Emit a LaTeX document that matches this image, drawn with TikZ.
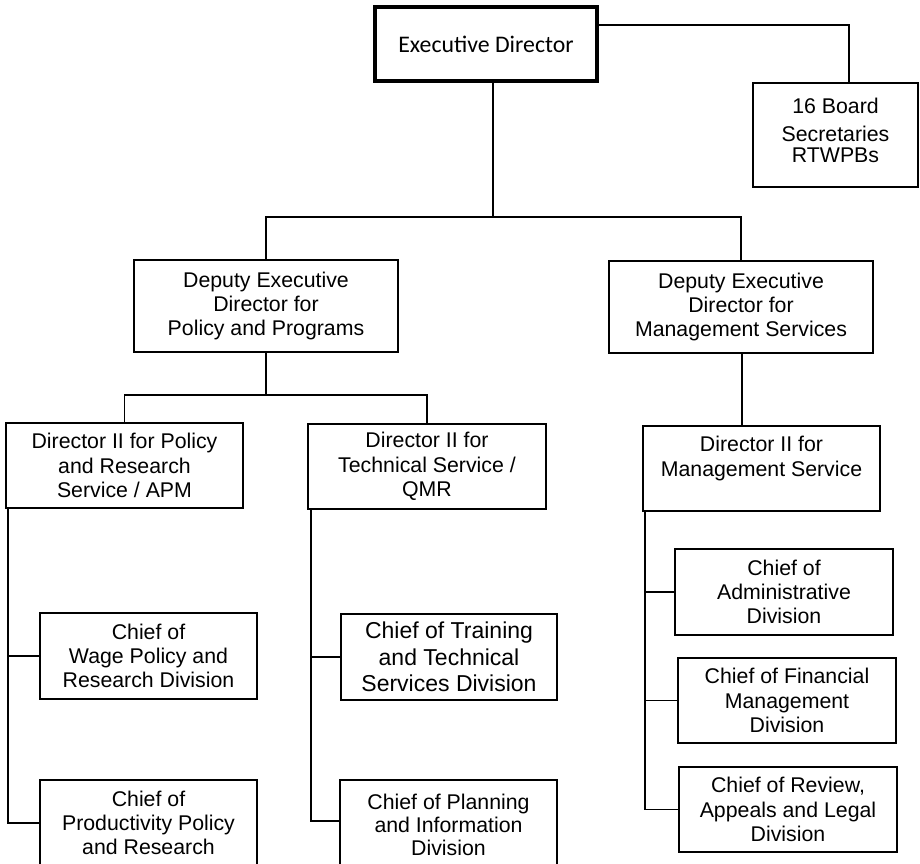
\documentclass[tikz,border=0pt]{standalone}
\usepackage{fontspec}
\setmainfont{Liberation Sans}
\newfontfamily\edfont{Carlito}
\begin{document}
\begin{tikzpicture}[x=1pt,y=-1pt,
  box/.style={draw, line width=1.6pt, inner sep=0pt, align=center,
    font=\fontsize{21.3}{24.3}\selectfont},
  conn/.style={line width=1.6pt}]
\clip (0,0) rectangle (920,863);
\fill[white] (0,0) rectangle (920,863);
% boxes
\node[box, line width=3.2pt, minimum width=222pt, minimum height=74pt,
  font=\edfont\fontsize{23.8}{26}\selectfont] (ED) at (486,44) {Executive Director};
\node[box, minimum width=165pt, minimum height=104pt] (Board) at (835.5,135) {};
\node[font=\fontsize{21.3}{24.3}\selectfont, align=center, inner sep=0pt] (BoardTxt) at (835.5,130)
  {16 Board\\[3.7pt]Secretaries\\[-3.3pt]RTWPBs};
\node[box, minimum width=264pt, minimum height=92pt] (DepL) at (266,306)
  {Deputy Executive\\Director for\\Policy and Programs};
\node[box, minimum width=264pt, minimum height=92pt] (DepR) at (741,307)
  {Deputy Executive\\Director for\\Management Services};
\node[box, minimum width=237pt, minimum height=85pt] (DirL) at (124.5,465.5)
  {Director II for Policy\\and Research\\Service / APM};
\node[box, minimum width=238pt, minimum height=85pt] (DirM) at (427,466.5)
  {Director II for\\Technical Service /\\QMR};
\node[box, minimum width=237pt, minimum height=85pt] (DirR) at (761.5,468.5)
  {Director II for\\Management Service\\\mbox{}};
\node[box, minimum width=217pt, minimum height=86pt] (Wage) at (148.5,656)
  {Chief of\\Wage Policy and\\Research Division};
\node[box, minimum width=217pt, minimum height=86pt] (Prod) at (148.5,823)
  {Chief of\\Productivity Policy\\and Research};
\node[box, minimum width=216pt, minimum height=86pt,
  font=\fontsize{23}{26.5}\selectfont] (Train) at (449,657)
  {Chief of Training\\and Technical\\Services Division};
\node[box, minimum width=217pt, minimum height=90pt,
  font=\fontsize{21.3}{23.3}\selectfont] (Plan) at (448.5,825)
  {Chief of Planning\\and Information\\Division};
\node[box, minimum width=218pt, minimum height=86pt] (Admin) at (784,592)
  {Chief of\\Administrative\\Division};
\node[box, minimum width=218pt, minimum height=85pt] (Fin) at (787,700.5)
  {Chief of Financial\\Management\\Division};
\node[box, minimum width=218pt, minimum height=85pt] (Rev) at (788,809.5)
  {Chief of Review,\\Appeals and Legal\\Division};
% junction coordinates
\coordinate (j0) at (493,217);
\coordinate (j1) at (849,25);
\coordinate (j2) at (266,395);
\coordinate (sL) at (8,0);
\coordinate (sM) at (311,0);
\coordinate (sR) at (645,0);
\coordinate (dR) at (742,0);
% connectors
\draw[conn] (ED.south -| j0) -- (j0);
\draw[conn] (DepL.north) |- (j0) -| (DepR.north);
\draw[conn] (ED.east |- j1) -- (j1) -- (Board.north -| j1);
\draw[conn] (DepL.south) -- (j2);
\draw[conn] (DirL.north) |- (j2) -| (DirM.north);
\draw[conn] (DepR.south -| dR) -- (DirR.north -| dR);
\draw[conn] (DirL.south -| sL) |- (Prod.west);
\draw[conn] (Wage.west -| sL) -- (Wage.west);
\draw[conn] (DirM.south -| sM) |- ([yshift=4pt]Plan.west);
\draw[conn] (Train.west -| sM) -- (Train.west);
\draw[conn] (DirR.south -| sR) |- (Rev.west);
\draw[conn] (Admin.west -| sR) -- (Admin.west);
\draw[conn] (Fin.west -| sR) -- (Fin.west);
\end{tikzpicture}
\end{document}
